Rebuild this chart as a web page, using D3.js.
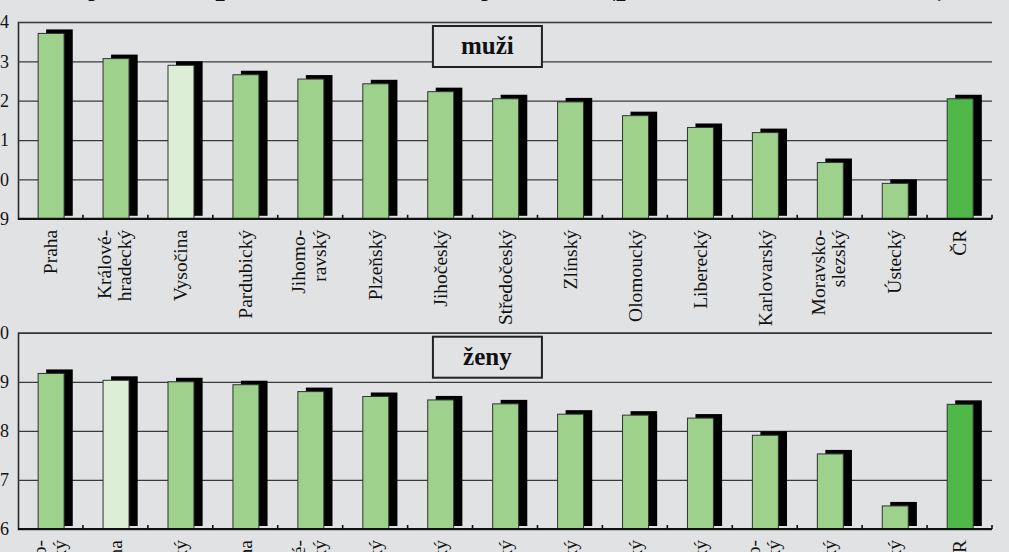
<!DOCTYPE html>
<html>
<head>
<meta charset="utf-8">
<script src="https://cdn.jsdelivr.net/npm/d3@7"></script>
<style>
  html, body { margin: 0; padding: 0; background: #e1e2e4; overflow: hidden; }
  svg { display: block; font-family: "Liberation Serif", "Times New Roman", serif; }
</style>
</head>
<body>
<main></main>
<script>
// data – muži
const menRegions = ["Praha", "Králové-\nhradecký", "Vysočina", "Pardubický", "Jihomo-\nravský", "Plzeňský",
    "Jihočeský", "Středočeský", "Zlínský", "Olomoucký", "Liberecký", "Karlovarský", "Moravsko-\nslezský", "Ústecký", "ČR"];
const menValues = [73.71, 73.07, 72.90, 72.66, 72.55, 72.43, 72.23, 72.05, 71.97, 71.62, 71.32, 71.19, 70.43, 69.90, 72.05];
const menTicks = [69, 70, 71, 72, 73, 74];

// data – ženy
const womenRegions = ["Jihomo-\nravský", "Vysočina", "Zlínský", "Praha", "Králové-\nhradecký", "Pardubický",
    "Jihočeský", "Plzeňský", "Olomoucký", "Středočeský", "Liberecký", "Moravsko-\nslezský", "Karlovarský", "Ústecký", "ČR"];
const womenValues = [79.17, 79.03, 79.00, 78.94, 78.80, 78.70, 78.63, 78.55, 78.34, 78.32, 78.26, 77.91, 77.53, 76.47, 78.54];
const womenTicks = [76, 77, 78, 79, 80];

const title = "Naděje dožití při narození v krajích ČR (průměr let 2005–2006)";

const width = 1009, height = 552;
const svg = d3.select("main").append("svg")
    .attr("width", width)
    .attr("height", height);

svg.append("rect").attr("width", width).attr("height", height).attr("fill", "#e1e2e4");

// titulek (většina je mimo obrázek)
svg.append("text")
    .attr("x", 12)
    .attr("y", -6)
    .attr("font-size", 34.5)
    .attr("font-weight", "bold")
    .attr("fill", "#111")
    .text(title);

const left = 18, right = 992;

function fillFor(name) {
    if (name === "Vysočina") return "#dcefd6";
    if (name === "ČR") return "#4fb848";
    return "#9dd18c";
}

// jeden panel grafu
function panel(regions, values, ticks, top, bottom, label) {
    const g = svg.append("g");

    const x = d3.scaleBand().domain(regions).range([left, right]);
    const y = d3.scaleLinear().domain([ticks[0], ticks[ticks.length - 1]]).range([bottom, top]);
    const bw = x.bandwidth();

    // osa y + mřížka
    const yAxis = g.append("g")
        .attr("transform", `translate(${left},0)`)
        .call(d3.axisLeft(y).tickValues(ticks).tickFormat(d3.format("d"))
            .tickSize(-(right - left)).tickPadding(9));
    yAxis.select(".domain").attr("stroke", "#2a2a2a").attr("stroke-width", 1.6);
    yAxis.selectAll(".tick line").attr("stroke", "#3a3a3a").attr("stroke-width", 1.2);
    yAxis.selectAll(".tick text")
        .attr("font-size", 18)
        .attr("font-family", "Liberation Serif, serif")
        .attr("fill", "#111");

    const bars = g.append("g").selectAll("g")
        .data(regions.map((r, i) => ({ name: r, value: values[i] })))
        .enter().append("g");

    // stín
    bars.append("rect")
        .attr("x", d => x(d.name) + bw * 0.31 + 8)
        .attr("y", d => y(d.value) - 4)
        .attr("width", bw * 0.41)
        .attr("height", d => bottom - 3 - (y(d.value) - 4))
        .attr("fill", "#000");

    // sloupec
    bars.append("rect")
        .attr("x", d => x(d.name) + bw * 0.31)
        .attr("y", d => y(d.value))
        .attr("width", bw * 0.4)
        .attr("height", d => bottom - y(d.value))
        .attr("fill", d => fillFor(d.name))
        .attr("stroke", "#333")
        .attr("stroke-width", 1);

    // osa x
    g.append("line")
        .attr("x1", left).attr("x2", right)
        .attr("y1", bottom).attr("y2", bottom)
        .attr("stroke", "#111").attr("stroke-width", 2.2);
    g.append("g").selectAll("line")
        .data(regions)
        .enter().append("line")
        .attr("x1", d => x(d) + bw).attr("x2", d => x(d) + bw)
        .attr("y1", bottom).attr("y2", bottom - 4)
        .attr("stroke", "#111").attr("stroke-width", 1.6);

    // popisky krajů
    const lab = g.append("g").selectAll("text")
        .data(regions)
        .enter().append("text")
        .attr("transform", d => `translate(${x(d) + bw / 2},${bottom + 11}) rotate(-90)`)
        .attr("text-anchor", "end")
        .attr("font-size", 19.5)
        .attr("fill", "#111");
    lab.each(function (d) {
        const lines = d.split("\n");
        const t = d3.select(this);
        lines.forEach((ln, i) => {
            const off = lines.length === 1 ? 0 : (i === 0 ? -0.6 : 0.45);
            t.append("tspan")
                .attr("x", 0)
                .attr("y", 0)
                .attr("dy", (off + 0.35) + "em")
                .text(ln);
        });
    });

    // rámeček s popisem
    const bx = left + (right - left) * 0.426;
    g.append("rect")
        .attr("x", bx).attr("y", top + 4)
        .attr("width", 109).attr("height", 41)
        .attr("fill", "#e1e2e4")
        .attr("stroke", "#222").attr("stroke-width", 2);
    g.append("text")
        .attr("x", bx + 54.5).attr("y", top + 32)
        .attr("text-anchor", "middle")
        .attr("font-size", 25)
        .attr("font-weight", "bold")
        .attr("fill", "#111")
        .text(label);
}

panel(menRegions, menValues, menTicks, 22, 218.8, "muži");
panel(womenRegions, womenValues, womenTicks, 332.7, 529, "ženy");
</script>
</body>
</html>
